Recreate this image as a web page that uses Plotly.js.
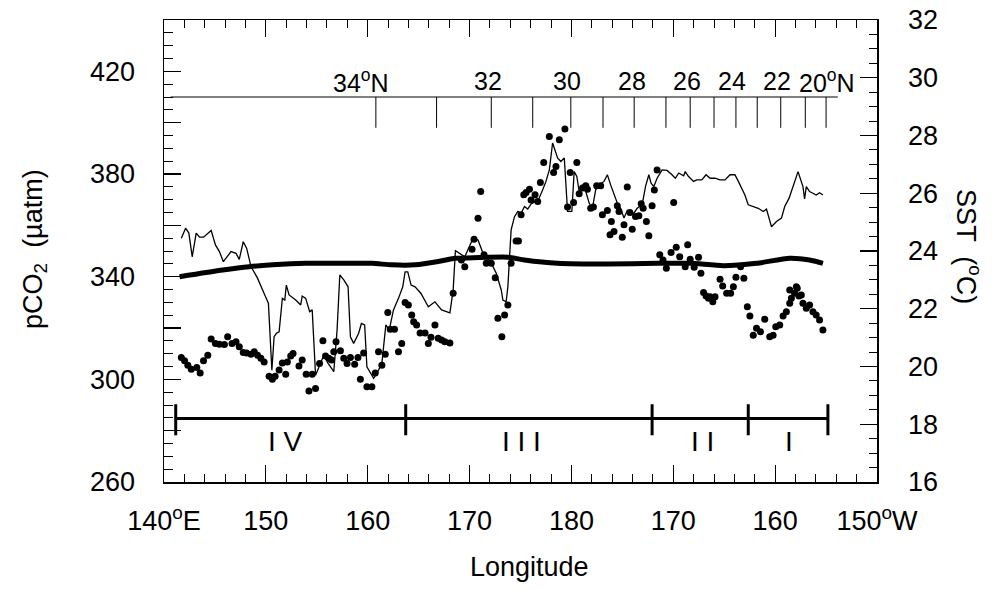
<!DOCTYPE html>
<html><head><meta charset="utf-8">
<script src="https://cdn.plot.ly/plotly-3.0.1.min.js"></script>
<style>html,body{margin:0;padding:0;background:#fff}#chart{width:1003px;height:590px}</style>
</head><body><div id="chart"></div>
<script>
const FONT = '"Liberation Sans Narrow", "Arial Narrow", "Liberation Sans", Arial, sans-serif';

// ---- Longitude axis (140E .. 150W expressed as 140..210) ----
const lonTicks = [140, 150, 160, 170, 180, 190, 200, 210];
const lonTickText = ['140<sup>o</sup>E', '150', '160', '170', '180', '170', '160', '150<sup>o</sup>W'];

// ---- left axis pCO2 ----
const pco2Ticks = [260, 300, 340, 380, 420];
const pco2TickText = ['260', '300', '340', '380', '420'];

// ---- right axis SST ----
const sstTicks = [16, 18, 20, 22, 24, 26, 28, 30, 32];
const sstTickText = ['16', '18', '20', '22', '24', '26', '28', '30', '32'];

// ---- SST (thin line, right axis) ----
const sstLon = [141.70,142.12,142.44,142.77,143.16,143.49,143.88,144.63,145.05,145.44,145.83,146.58,147.07,147.39,147.78,148.11,148.54,149.18,149.83,150.25,150.59,150.81,151.04,151.30,151.62,151.86,152.01,152.28,152.93,153.42,153.57,153.91,154.30,154.55,154.88,155.37,155.69,156.11,156.67,156.99,157.26,157.65,158.07,158.30,158.62,159.11,159.38,159.70,159.92,160.58,160.90,161.39,161.78,162.11,162.53,163.02,163.44,163.67,163.93,164.26,164.65,165.23,165.95,166.60,167.25,168.07,168.39,168.61,169.04,169.53,170.34,170.83,171.32,172.13,172.62,173.11,173.27,173.59,173.76,174.08,174.41,174.74,175.06,175.39,175.71,176.04,176.43,176.76,177.18,177.50,177.83,178.15,178.64,178.96,179.30,179.62,180.04,180.27,180.53,180.76,181.09,181.41,181.74,182.06,182.38,182.71,183.20,183.53,183.85,184.18,184.50,184.82,185.16,185.48,185.80,186.13,186.46,186.94,187.27,187.60,187.82,188.09,188.41,188.90,189.39,189.87,190.20,190.53,191.02,191.17,191.50,191.99,192.31,192.80,193.22,193.61,194.10,194.59,195.08,195.57,196.05,196.39,196.71,197.03,197.36,197.85,198.34,198.83,199.15,199.64,200.13,200.62,200.94,201.37,201.76,202.25,202.73,202.89,203.06,203.38,203.71,204.03,204.36,204.69];
const sstVal = [24.44,24.79,24.62,23.80,24.62,24.48,24.48,24.71,24.21,23.98,23.63,23.98,23.92,23.71,24.32,24.10,23.46,23.06,22.53,22.19,19.87,21.03,21.15,21.20,22.36,22.30,22.82,22.48,22.30,22.13,22.44,22.36,21.90,21.96,19.70,20.11,20.39,20.11,19.82,21.26,23.17,23.00,22.76,21.03,20.80,21.15,21.49,21.44,19.99,19.59,19.76,20.11,21.44,21.26,21.96,22.36,22.76,23.28,23.28,22.82,22.76,22.53,22.07,22.24,21.96,21.86,22.65,24.01,23.92,23.80,24.44,24.38,23.92,23.58,23.23,22.65,22.30,22.24,22.76,24.73,25.19,25.37,25.31,25.54,25.45,25.63,25.71,25.77,26.12,26.41,26.81,27.74,27.22,27.10,27.22,25.37,25.37,26.75,26.58,26.06,26.29,26.06,25.66,25.48,26.12,26.29,26.41,26.64,26.29,26.00,25.66,25.48,25.14,25.40,25.25,25.31,25.48,25.60,26.23,26.64,26.35,26.23,26.52,26.81,26.79,26.64,26.52,26.70,26.60,26.75,26.58,26.41,26.46,26.46,26.64,26.52,26.52,26.46,26.46,26.64,26.64,26.41,26.18,25.94,25.60,25.54,25.48,25.37,25.45,24.84,25.02,25.14,25.54,25.83,26.23,26.75,26.23,25.80,26.23,26.06,26.00,25.94,26.02,25.94];

// ---- seawater pCO2 (dots, left axis) ----
const pco2Lon = [141.70,142.02,142.34,142.68,143.22,143.55,143.88,144.30,144.63,145.05,145.44,145.93,146.25,146.68,147.07,147.39,147.78,148.11,148.54,148.86,149.18,149.51,149.83,150.32,150.64,150.91,151.30,151.62,151.95,152.11,152.44,152.67,153.25,153.57,153.96,154.23,154.55,154.88,155.27,155.60,155.86,156.18,156.45,156.67,156.89,157.32,157.65,157.97,158.30,158.72,159.04,159.28,159.60,159.92,160.41,160.74,161.06,161.39,161.72,161.97,162.21,162.63,163.02,163.34,163.67,163.99,164.32,164.51,164.80,165.14,165.63,165.95,166.21,166.60,166.92,167.25,167.58,168.07,168.39,169.20,169.53,170.24,170.44,170.83,171.09,171.42,171.64,172.13,172.52,172.78,173.44,173.17,173.76,174.08,174.57,174.80,175.06,175.32,175.55,175.88,176.04,176.43,176.69,176.95,177.28,177.83,178.25,178.48,178.81,179.36,179.62,179.88,180.21,180.53,180.76,181.09,181.41,181.57,181.89,182.16,182.48,182.87,183.04,183.53,183.79,183.92,184.18,184.50,184.67,184.99,185.16,185.48,185.74,185.97,186.29,186.62,186.85,187.04,187.36,187.60,187.92,188.14,188.41,188.67,188.99,189.32,189.78,190.04,190.29,190.63,191.17,191.41,191.66,192.05,192.48,192.71,192.97,193.22,193.46,193.61,193.88,194.10,194.59,194.85,195.24,195.63,195.90,196.15,196.61,196.93,197.27,197.52,197.85,198.17,198.56,198.98,199.47,199.80,200.06,200.45,200.78,201.10,201.43,201.59,201.91,202.08,202.34,202.57,202.73,203.06,203.38,203.71,204.03,204.36,204.69,201.43,202.17];
const pco2Val = [308.5,307.2,305.5,303.9,304.6,302.5,307.2,309.4,315.7,314.0,313.7,313.6,316.6,314.0,314.6,312.7,310.5,310.3,309.8,310.7,309.4,308.2,306.8,301.2,300.0,301.2,303.6,306.4,302.0,306.8,309.1,310.1,305.2,307.5,302.0,295.5,302.0,296.4,306.2,315.0,309.1,308.2,307.5,310.7,314.6,311.1,308.2,306.2,308.5,305.9,308.5,300.0,310.3,297.1,297.1,302.5,310.7,305.5,309.8,326.0,319.5,319.5,310.7,314.0,329.9,329.0,325.1,322.4,321.2,318.1,318.1,314.0,316.4,321.2,316.0,315.3,314.6,314.2,333.5,346.5,343.9,350.7,354.6,362.8,373.2,348.5,345.2,345.2,339.6,323.8,325.1,316.6,329.0,345.2,353.9,353.9,364.1,371.9,372.8,374.1,369.9,371.9,369.3,376.7,384.5,394.6,380.6,382.9,393.3,397.5,367.1,380.6,368.9,384.5,372.3,374.5,375.4,374.1,366.7,367.1,375.4,375.4,364.1,365.8,356.3,361.5,357.6,367.6,365.4,355.4,360.2,374.9,365.0,358.5,363.4,363.7,368.4,366.7,361.5,355.9,367.6,373.8,381.6,348.5,346.5,343.3,349.4,368.9,351.5,347.8,343.9,352.4,346.8,343.7,347.6,341.3,333.8,332.5,331.6,332.2,330.2,332.2,339.0,336.4,333.5,333.5,336.1,339.8,343.9,339.4,328.3,324.7,317.2,319.9,318.5,323.4,316.6,317.2,320.5,321.2,324.7,326.3,329.6,331.6,333.5,336.1,332.5,332.9,329.6,327.7,329.0,326.3,325.1,323.1,319.2,334.8,335.5];

// ---- atmospheric pCO2 (thick line, left axis) ----
const airLon = [141.53,145.76,148.37,150.64,153.91,157.16,160.41,162.36,164.65,166.92,168.55,168.87,173.76,175.39,178.64,183.53,188.41,191.66,194.92,198.17,201.43,203.38,204.69];
const airVal = [340.0,342.6,343.9,344.6,345.2,345.2,345.2,344.6,344.6,345.9,347.2,347.2,347.6,346.5,345.2,344.9,345.2,345.2,344.3,345.2,347.2,346.5,345.2];

// ---- latitude scale drawn inside the plot ----
const latTickLon = [160.8,166.76,172.13,176.2,179.94,183.1,186.16,189.28,191.66,194.0,196.15,198.24,200.55,202.96,205.0];
const latLabelLon = [159.3,171.8,179.6,185.9,191.3,195.8,200.2,205.1];
const latLabels = ['34<sup>o</sup>N','32','30','28','26','24','22','20<sup>o</sup>N'];
const latLineStart = 140.65, latLineEnd = 206.15;
const latLineLevel = 410, latTickBottom = 398, latLabelLevel = 416.3;

// ---- regions ----
const regionBounds = [141.15,163.73,187.92,197.36,205.18];
const regionLabels = ['I V','I I I','I I','I'];
const regionLabelLon = [151.96,175.1,192.9,201.4];
const regionLevel = 284.7, regionTickLow = 278.2, regionTickHigh = 290.3, regionLabelLevel = 275.6;

const rx = [regionBounds[0], regionBounds[regionBounds.length-1], null];
const ry = [regionLevel, regionLevel, null];
regionBounds.forEach(b => { rx.push(b, b, null); ry.push(regionTickLow, regionTickHigh, null); });

const lx = [latLineStart, latLineEnd, null];
const ly = [latLineLevel, latLineLevel, null];
latTickLon.forEach(b => { lx.push(b, b, null); ly.push(latLineLevel, latTickBottom, null); });

const traces = [
  {x: sstLon, y: sstVal, yaxis: 'y2', type: 'scatter', mode: 'lines', line: {color: '#000', width: 1.3}, hoverinfo: 'skip'},
  {x: airLon, y: airVal, type: 'scatter', mode: 'lines', line: {color: '#000', width: 5, shape: 'spline', smoothing: 0.6}, hoverinfo: 'skip'},
  {x: pco2Lon, y: pco2Val, type: 'scatter', mode: 'markers', marker: {color: '#000', size: 7}, hoverinfo: 'skip'},
  {x: rx, y: ry, type: 'scatter', mode: 'lines', line: {color: '#000', width: 3}, hoverinfo: 'skip'},
  {x: lx, y: ly, type: 'scatter', mode: 'lines', line: {color: '#000', width: 1}, hoverinfo: 'skip'}
];

const annotations = [];
latLabels.forEach((t, i) => annotations.push({x: latLabelLon[i], y: latLabelLevel, xref: 'x', yref: 'y', text: t, showarrow: false, xanchor: 'center', yanchor: 'middle', font: {family: FONT, size: 25, color: '#000'}}));
regionLabels.forEach((t, i) => annotations.push({x: regionLabelLon[i], y: regionLabelLevel, xref: 'x', yref: 'y', text: t, showarrow: false, xanchor: 'center', yanchor: 'middle', font: {family: FONT, size: 28, color: '#000'}}));
annotations.push({x: 0.512, y: -0.184, xref: 'paper', yref: 'paper', text: 'Longitude', showarrow: false, xanchor: 'center', yanchor: 'middle', font: {family: FONT, size: 27, color: '#000'}});
annotations.push({x: -0.182, y: 0.505, xref: 'paper', yref: 'paper', text: 'pCO<sub>2</sub>  (µatm)', textangle: -90, showarrow: false, xanchor: 'center', yanchor: 'middle', font: {family: FONT, size: 27, color: '#000'}});
annotations.push({x: 1.128, y: 0.51, xref: 'paper', yref: 'paper', text: 'SST  (<sup>o</sup>C)', textangle: 90, showarrow: false, xanchor: 'center', yanchor: 'middle', font: {family: FONT, size: 27, color: '#000'}});

const tickBase = {ticks: 'inside', tickwidth: 1.2, tickcolor: '#000', showgrid: false, zeroline: false};

const layout = {
  width: 1003, height: 590,
  margin: {l: 164, r: 126, t: 20, b: 108, pad: 0},
  paper_bgcolor: '#fff', plot_bgcolor: '#fff',
  showlegend: false,
  font: {family: FONT, color: '#000'},
  xaxis: Object.assign({}, tickBase, {
    range: [140, 210], tickmode: 'array', tickvals: lonTicks, ticktext: lonTickText, ticklen: 17,
    minor: {dtick: 2, tick0: 140, ticks: 'inside', ticklen: 8, tickwidth: 1, tickcolor: '#000'},
    showline: true, linewidth: 1.5, linecolor: '#000', mirror: 'ticks',
    ticklabelstandoff: 14, tickfont: {family: FONT, size: 27, color: '#000'}
  }),
  yaxis: Object.assign({}, tickBase, {
    range: [260, 440], tickmode: 'array', tickvals: pco2Ticks, ticktext: pco2TickText, ticklen: 17,
    minor: {dtick: 5, tick0: 260, ticks: 'inside', ticklen: 9, tickwidth: 1, tickcolor: '#000'},
    showline: true, linewidth: 1.5, linecolor: '#000',
    ticklabelstandoff: 22, tickfont: {family: FONT, size: 27, color: '#000'}
  }),
  yaxis3: Object.assign({}, tickBase, {
    range: [260, 440], overlaying: 'y', side: 'left', anchor: 'x', tickmode: 'linear', tick0: 260, dtick: 20, ticklen: 17,
    showticklabels: false, showline: false
  }),
  yaxis2: Object.assign({}, tickBase, {
    range: [16, 32], overlaying: 'y', side: 'right', tickmode: 'array', tickvals: sstTicks, ticktext: sstTickText, ticklen: 17,
    minor: {dtick: 0.5, tick0: 16, ticks: 'inside', ticklen: 8, tickwidth: 1, tickcolor: '#000'},
    showline: true, linewidth: 1.5, linecolor: '#000',
    ticklabelstandoff: 24, tickfont: {family: FONT, size: 27, color: '#000'}
  }),
  annotations: annotations
};

// invisible anchor trace so the tick-only overlay axis is drawn
traces.push({x: [null], y: [null], yaxis: 'y3', type: 'scatter', mode: 'markers', hoverinfo: 'skip', showlegend: false});

Plotly.newPlot('chart', traces, layout, {staticPlot: true, displayModeBar: false});
</script>
</body></html>
